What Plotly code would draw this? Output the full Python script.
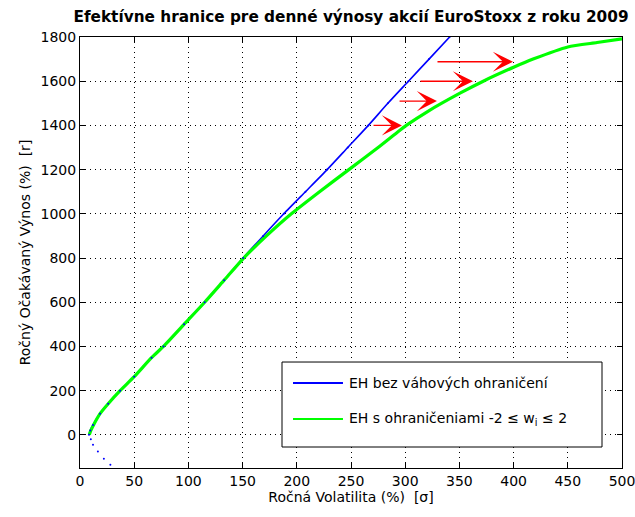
import plotly.graph_objects as go

# Efficient frontier without weight limits (annualised volatility %, expected return %)
sigma_free = [8.3, 9.5, 12, 18.5, 26, 37, 50, 66, 77, 96, 115, 133, 150.5, 169, 188,
              208, 228, 247, 266, 284, 303, 322, 341]
mu_free = [0, 20, 45, 96, 141, 200, 263, 349, 400, 500, 600, 700, 800, 900, 1000,
           1100, 1200, 1300, 1400, 1500, 1600, 1700, 1800]

# Inefficient (lower) branch of the unconstrained frontier
sigma_lower = [10, 12, 16.5, 22, 28]
mu_lower = [-20, -45, -75, -108, -135]

# Efficient frontier with weights restricted to -2 <= w_i <= 2
sigma_box = [8.6, 10, 12.5, 18.5, 26, 37, 50, 66, 77, 96, 115, 133, 151, 172, 195,
             221, 248, 275, 292, 301, 321, 351, 372, 400, 418, 450, 477, 500]
mu_box = [0, 20, 45, 96, 141, 200, 263, 349, 400, 500, 600, 700, 800, 900, 1000,
          1100, 1200, 1300, 1366, 1400, 1464, 1547, 1600, 1663, 1700, 1755, 1775, 1792]

# Horizontal shifts caused by the weight constraints: (start sigma, end sigma, mu)
arrow_start = [269.4, 293.4, 312.7, 328.4]
arrow_end = [297.0, 329.3, 362.5, 399.4]
arrow_mu = [1400, 1510, 1600, 1688]

x_ticks = list(range(0, 501, 50))
y_ticks = list(range(0, 1801, 200))

title_text = "Efektívne hranice pre denné výnosy akcií EuroStoxx z roku 2009"
x_label = "Ročná Volatilita (%)  [σ]"
y_label = "Ročný Očakávaný Výnos (%)  [r]"
legend_labels = ["EH bez váhových ohraničení", "EH s ohraničeniami -2 ≤ w<sub>i</sub> ≤ 2"]
BLUE = "#0000FF"
GREEN = "#00FF00"
FONT = "DejaVu Sans"

fig = go.Figure()

fig.add_trace(go.Scatter(x=sigma_free, y=mu_free, mode="lines",
                         line=dict(color=BLUE, width=1.6, shape="spline", smoothing=0.6),
                         showlegend=False))
fig.add_trace(go.Scatter(x=sigma_box, y=mu_box, mode="lines",
                         line=dict(color=GREEN, width=3.2, shape="spline", smoothing=0.6),
                         showlegend=False))
fig.add_trace(go.Scatter(x=sigma_free, y=mu_free, mode="markers",
                         marker=dict(color=BLUE, size=2), showlegend=False))
fig.add_trace(go.Scatter(x=sigma_lower, y=mu_lower, mode="markers",
                         marker=dict(color=BLUE, size=2), showlegend=False))

annotations = []
for s0, s1, m in zip(arrow_start, arrow_end, arrow_mu):
    annotations.append(dict(x=s1, y=m, ax=s0, ay=m, xref="x", yref="y",
                            axref="x", ayref="y", showarrow=True, text="",
                            arrowhead=3, arrowsize=2.4, arrowwidth=1.4,
                            arrowcolor="#FF0000"))

# Legend box drawn in paper coordinates
leg_x0, leg_x1, leg_y0, leg_y1 = 0.3727, 0.9631, 0.0487, 0.2459
line_x0, line_x1, text_x = 0.393, 0.4852, 0.4926
entry_y = [0.1972, 0.1137]
shapes = [dict(type="rect", xref="paper", yref="paper", x0=leg_x0, x1=leg_x1,
               y0=leg_y0, y1=leg_y1, line=dict(color="#000000", width=1),
               fillcolor="white", layer="above")]
for col, yy, lab in zip([BLUE, GREEN], entry_y, legend_labels):
    shapes.append(dict(type="line", xref="paper", yref="paper", x0=line_x0, x1=line_x1,
                       y0=yy, y1=yy, line=dict(color=col, width=2), layer="above"))
    annotations.append(dict(x=text_x, y=yy, xref="paper", yref="paper", text=lab,
                            showarrow=False, xanchor="left", yanchor="middle",
                            font=dict(family=FONT, size=14, color="#000000")))

axis_common = dict(showline=True, linecolor="#000000", linewidth=1, mirror="ticks",
                   ticks="inside", ticklen=5, tickcolor="#000000",
                   showgrid=True, gridcolor="#000000", gridwidth=1, griddash="1px,4px",
                   zeroline=False, ticklabeloverflow="allow", automargin=False,
                   tickfont=dict(family=FONT, size=14, color="#000000"))

fig.update_xaxes(range=[0, 500], tickvals=x_ticks,
                 title=dict(text=x_label, font=dict(family=FONT, size=14, color="#000000"),
                            standoff=4),
                 **axis_common)
fig.update_yaxes(range=[-150, 1800], tickvals=y_ticks,
                 title=dict(text=y_label, font=dict(family=FONT, size=14, color="#000000"),
                            standoff=6),
                 **axis_common)

fig.update_layout(
    width=635, height=517,
    margin=dict(l=80, r=13, t=37, b=49, autoexpand=False),
    paper_bgcolor="white", plot_bgcolor="white",
    title=dict(text="<b>" + title_text + "</b>", x=0.5528, xanchor="center",
               y=0.967, yanchor="middle", automargin=False,
               font=dict(family=FONT, size=15.3, color="#000000")),
    shapes=shapes, annotations=annotations, showlegend=False,
)

fig.write_html("out.html")
